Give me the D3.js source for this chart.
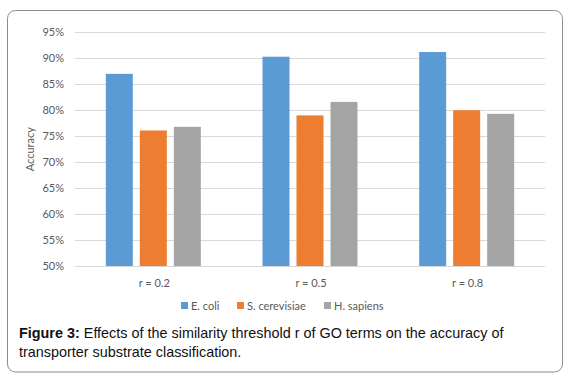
<!DOCTYPE html>
<html>
<head>
<meta charset="utf-8">
<script src="https://cdn.jsdelivr.net/npm/d3@7"></script>
<style>
  body { margin: 0; background: #fff; }
  svg { display: block; }
</style>
</head>
<body>
<div id="chart"></div>
<script>
// data
let categories = ['r = 0.2', 'r = 0.5', 'r = 0.8'];
let seriesNames = ['E. coli', 'S. cerevisiae', 'H. sapiens'];
let ecoli = [87.0, 90.3, 91.2];
let scerevisiae = [76.1, 79.0, 80.0];
let hsapiens = [76.8, 81.6, 79.3];
let yTicks = [50, 55, 60, 65, 70, 75, 80, 85, 90, 95];
let seriesColors = ['#5b9bd5', '#ed7d31', '#a5a5a5'];

let W = 570, H = 379;
let svg = d3.select('#chart').append('svg').attr('width', W).attr('height', H);

// outer frame of the figure
svg.append('rect')
    .attr('x', 7.5).attr('y', 10.5)
    .attr('width', 555).attr('height', 361.5)
    .attr('rx', 8).attr('ry', 8)
    .style('fill', '#fff').style('stroke', '#8c8c8c').style('stroke-width', 1);

// plot area
let pLeft = 75, pRight = 545, pTop = 32.3, pBottom = 266;
let font = 'Lato, "Open Sans", sans-serif';

let y = d3.scaleLinear().domain([50, 95]).range([pBottom, pTop]);
let x0 = d3.scaleBand().domain(categories).range([pLeft, pRight]).padding(0);
let x1 = d3.scaleBand().domain(seriesNames).range([0, x0.bandwidth()])
    .paddingInner(0.206).paddingOuter(0.907);

// gridlines
svg.append('g').selectAll('line')
    .data(yTicks)
    .enter()
    .append('line')
    .attr('x1', pLeft).attr('x2', pRight)
    .attr('y1', d => Math.round(y(d)) + 0.5)
    .attr('y2', d => Math.round(y(d)) + 0.5)
    .style('stroke', '#d9d9d9').style('stroke-width', 1);

// y tick labels
svg.append('g').selectAll('text')
    .data(yTicks)
    .enter()
    .append('text')
    .attr('x', 64).attr('y', d => y(d))
    .attr('dy', '0.35em')
    .attr('text-anchor', 'end')
    .style('font-family', font).style('font-size', '11px').style('fill', '#595959')
    .text(d => d + '%');

// y axis title
svg.append('text')
    .attr('transform', 'translate(34,' + ((pTop + pBottom) / 2) + ') rotate(-90)')
    .attr('text-anchor', 'middle')
    .style('font-family', font).style('font-size', '11px').style('fill', '#595959')
    .text('Accuracy');

// bars
let rows = categories.map((c, i) => ({
    cat: c,
    values: [ecoli[i], scerevisiae[i], hsapiens[i]]
}));
let groups = svg.append('g').selectAll('g')
    .data(rows)
    .enter()
    .append('g')
    .attr('transform', d => 'translate(' + x0(d.cat) + ',0)');
groups.selectAll('rect')
    .data(d => d.values.map((v, j) => ({ name: seriesNames[j], value: v, j: j })))
    .enter()
    .append('rect')
    .attr('x', d => x1(d.name))
    .attr('width', x1.bandwidth())
    .attr('y', d => y(d.value))
    .attr('height', d => y(50) - y(d.value))
    .style('fill', d => seriesColors[d.j]);

// category labels
svg.append('g').selectAll('text')
    .data(categories)
    .enter()
    .append('text')
    .attr('x', d => x0(d) + x0.bandwidth() / 2 + 1)
    .attr('y', 287)
    .attr('text-anchor', 'middle')
    .style('font-family', font).style('font-size', '11px').style('fill', '#595959')
    .text(d => d);

// legend
let legendX = [181, 237, 324];
let legend = svg.append('g').selectAll('g')
    .data(seriesNames)
    .enter()
    .append('g')
    .attr('transform', (d, i) => 'translate(' + legendX[i] + ',302)');
legend.append('rect')
    .attr('width', 7).attr('height', 7)
    .style('fill', (d, i) => seriesColors[i]);
legend.append('text')
    .attr('x', 10).attr('y', 7.5)
    .style('font-family', font).style('font-size', '11px').style('fill', '#595959')
    .text(d => d);

// caption
let cap = svg.append('text')
    .style('font-family', '"Liberation Sans", Arial, sans-serif')
    .style('font-size', '14.4px').style('fill', '#111');
let l1 = cap.append('tspan').attr('x', 19).attr('y', 338);
l1.append('tspan').style('font-weight', 'bold').text('Figure 3:');
l1.append('tspan').text(' Effects of the similarity threshold r of GO terms on the accuracy of');
cap.append('tspan').attr('x', 19).attr('y', 357).text('transporter substrate classification.');
</script>
</body>
</html>
